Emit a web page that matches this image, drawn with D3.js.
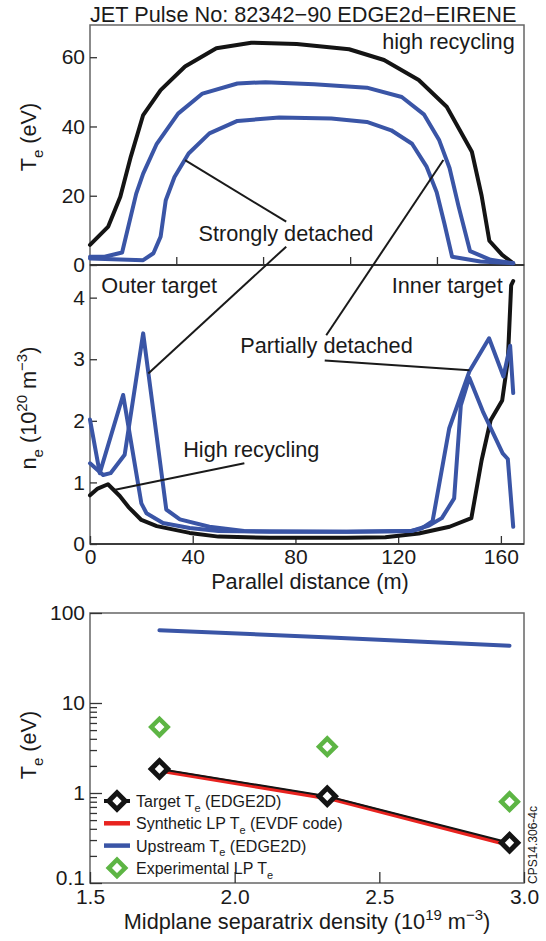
<!DOCTYPE html>
<html>
<head>
<meta charset="utf-8">
<style>
  body { margin: 0; background: #fff; }
  svg { font-family: 'Liberation Sans', Arial, sans-serif; }
</style>
<script src="https://d3js.org/d3.v7.min.js"></script>
</head>
<body>
<div id="chart"></div>
<script>
// ---- top panel: Te along the field line  [parallel distance (m), Te (eV)]
var teHighRecycling = [[0,5.8],[7.1,11.1],[11.8,19.7],[15.9,31.3],[20.7,43.3],[27.5,50.5],[37,57.3],[49.2,62.6],[62.8,64.2],[80.5,63.8],[100.9,62.3],[114.5,59.2],[128,53.4],[138.9,45.7],[148.7,32.7],[152.5,20],[155.5,7],[160.5,2.9],[164.8,0.5]];
var tePartial = [[0,2.4],[5.7,2.4],[12.5,3.6],[18,20.6],[20.7,26.4],[26,35],[34.3,43.7],[43.8,49.5],[57.4,52.4],[68.3,52.8],[87.3,52.2],[107.8,51.2],[121.4,48.5],[130,43.5],[136,36],[140,28],[143.5,17],[148,4],[156,1.5],[164.8,0.5]];
var teStrong = [[0,1.9],[20.7,1.4],[24.7,3.4],[27.5,8.2],[29.5,18.7],[32.9,25.4],[38.4,32.2],[46.5,38],[57.4,41.6],[73.7,42.6],[94,42.3],[107.8,41.3],[117.3,38.9],[125.4,35],[131,28.5],[135,21],[138,12],[141,2.4],[152,1],[164.8,0.5]];
var teTicks = [0, 20, 40, 60];
var distTicksTop = [33.6, 67.4, 101.3, 135.1];

// ---- middle panel: ne  [parallel distance (m), ne (1e20 m^-3)]
var neHighRecycling = [[0,0.79],[3,0.9],[7,0.97],[11.6,0.78],[15,0.6],[20,0.39],[26,0.29],[38.8,0.18],[50,0.12],[70,0.1],[100,0.1],[115,0.11],[128,0.17],[140,0.28],[148.5,0.42],[152.5,1.36],[156,2.01],[160.5,2.33],[162.7,2.98],[164,4.2],[164.8,4.27]];
var nePartial = [[0,2.02],[3.8,1.15],[12.9,2.42],[20,0.66],[22,0.5],[28.4,0.34],[38.8,0.26],[50,0.21],[70,0.2],[100,0.2],[125,0.21],[132,0.3],[137,0.42],[141.8,0.74],[144.4,2.25],[147.7,2.7],[153,2.15],[160.7,1.47],[162.7,1.38],[164.8,0.28]];
var neStrong = [[0,1.31],[5.1,1.12],[8,1.15],[13.5,1.45],[20.7,3.42],[29.7,0.56],[35,0.4],[46.5,0.28],[60,0.21],[100,0.2],[125,0.21],[129,0.25],[133.4,0.37],[139.9,1.88],[147.7,2.8],[155.4,3.34],[161,2.72],[163.6,3.22],[164.8,2.45]];
var neTicks = [0, 1, 2, 3, 4];
var distTicks = [0, 40, 80, 120, 160];

// ---- bottom panel: vs midplane separatrix density (1e19 m^-3)
var targetDensity = [1.74, 2.32, 2.95];
var targetTe = [1.85, 0.92, 0.28];
var syntheticDensity = [1.76, 2.33, 2.94];
var syntheticTe = [1.74, 0.87, 0.27];
var upstreamDensity = [1.74, 2.33, 2.95];
var upstreamTe = [64.5, 53.5, 43.3];
var expDensity = [1.74, 2.32, 2.95];
var expTe = [5.4, 3.27, 0.8];
var densityTicks = [1.5, 2.0, 2.5, 3.0];
var logTicks = [0.1, 1, 10, 100];
var logTickLabels = ["0.1", "1", "10", "100"];

var BLUE = "#3a55a6", BLACK = "#141414", RED = "#e8231f", GREEN = "#5db544";
var W = 546, H = 941, L = 90, R = 524;
var FS = 21.7;

var svg = d3.select("#chart").append("svg").attr("width", W).attr("height", H);

var x = d3.scaleLinear().domain([0, 169]).range([L, R]);
var yTe = d3.scaleLinear().domain([0, 69.3]).range([265, 25]);
var yNe = d3.scaleLinear().domain([0, 4.53]).range([544, 265]);
var xN = d3.scaleLinear().domain([1.5, 3.0]).range([L, R]);
var yLog = d3.scaleLog().domain([0.1, 100]).range([883, 613]);

function styleAxis(g) {
  g.attr("font-size", 21).attr("font-family", null);
  g.select(".domain").remove();
  g.selectAll(".tick text").attr("fill", "#1a1a1a");
  g.selectAll(".tick line").attr("stroke", "#333").attr("stroke-width", 1.3);
}

// rich text with sub/superscripts
function richText(g, parts, fs) {
  var small = Math.round(fs * 0.7), shift = 0;
  parts.forEach(function(p) {
    var t = g.append("tspan").text(p[0]);
    var target = p[1] === "sub" ? fs * 0.3 : p[1] === "sup" ? -fs * 0.4 : 0;
    t.attr("dy", target - shift).attr("font-size", p[1] ? small : fs);
    shift = target;
  });
}

// frames
[[25, 265], [265, 544], [613, 883]].forEach(function(f) {
  svg.append("rect").attr("x", L).attr("y", f[0]).attr("width", R - L).attr("height", f[1] - f[0])
    .attr("fill", "none").attr("stroke", "#666").attr("stroke-width", 1.5);
});
svg.append("line").attr("x1", L).attr("x2", R).attr("y1", 265).attr("y2", 265).attr("stroke", "#222").attr("stroke-width", 1.5);
svg.append("line").attr("x1", L).attr("x2", R).attr("y1", 544).attr("y2", 544).attr("stroke", "#222").attr("stroke-width", 1.5);

// axes
svg.append("g").attr("transform", "translate(" + L + ",0)")
  .call(d3.axisLeft(yTe).tickValues(teTicks).tickSize(-7).tickPadding(5)).call(styleAxis);
svg.append("g").attr("transform", "translate(0,265)")
  .call(d3.axisBottom(x).tickValues(distTicksTop).tickSize(-8).tickFormat("")).call(styleAxis);
svg.append("g").attr("transform", "translate(" + L + ",0)")
  .call(d3.axisLeft(yNe).tickValues(neTicks).tickSize(-7).tickPadding(5).tickFormat(d3.format("d"))).call(styleAxis);
svg.append("g").attr("transform", "translate(0,544)")
  .call(d3.axisBottom(x).tickValues(distTicks).tickSize(-8).tickPadding(5)).call(styleAxis);
svg.append("g").attr("transform", "translate(0,883)")
  .call(d3.axisBottom(xN).tickValues(densityTicks).tickSize(-11).tickPadding(6).tickFormat(d3.format(".1f"))).call(styleAxis);
var logAxis = svg.append("g").attr("transform", "translate(" + L + ",0)")
  .call(d3.axisLeft(yLog).tickValues(logTicks).tickSize(-12).tickPadding(5)
    .tickFormat(function(d, i) { return logTickLabels[i]; })).call(styleAxis);
// lift the lowest label clear of the x tick labels
logAxis.selectAll(".tick text").filter(function(d) { return d === 0.1; }).attr("y", -5);
var minor = [];
[0.1, 1].forEach(function(dec) { d3.range(2, 10).forEach(function(k) { minor.push(dec * k); }); });
svg.append("g").attr("transform", "translate(" + L + ",0)")
  .call(d3.axisLeft(yLog).tickValues(minor).tickSize(-7).tickFormat("")).call(styleAxis);

// title
svg.append("text").attr("x", L).attr("y", 22).attr("font-size", FS).attr("fill", "#1a1a1a")
  .text("JET Pulse No: 82342\u221290 EDGE2d\u2212EIRENE");

// axis titles
function yTitle(cy, parts) {
  var t = svg.append("text").attr("transform", "translate(36," + cy + ") rotate(-90)")
    .attr("text-anchor", "middle").attr("fill", "#1a1a1a");
  richText(t, parts, FS);
}
yTitle(137, [["T"], ["e", "sub"], [" (eV)"]]);
yTitle(408, [["n"], ["e", "sub"], [" (10"], ["20", "sup"], [" m"], ["\u22123", "sup"], [")"]]);
yTitle(745, [["T"], ["e", "sub"], [" (eV)"]]);

svg.append("text").attr("x", 310).attr("y", 589).attr("text-anchor", "middle")
  .attr("font-size", FS).attr("fill", "#1a1a1a").text("Parallel distance (m)");
var xt = svg.append("text").attr("x", 307).attr("y", 929).attr("text-anchor", "middle").attr("fill", "#1a1a1a");
richText(xt, [["Midplane separatrix density (10"], ["19", "sup"], [" m"], ["\u22123", "sup"], [")"]], FS);

// curves
function drawLine(data, xs, ys, color, width) {
  svg.append("path").datum(data)
    .attr("d", d3.line().x(function(d) { return xs(d[0]); }).y(function(d) { return ys(d[1]); }))
    .attr("fill", "none").attr("stroke", color).attr("stroke-width", width)
    .attr("stroke-linejoin", "round").attr("stroke-linecap", "round");
}
drawLine(teHighRecycling, x, yTe, BLACK, 4);
drawLine(tePartial, x, yTe, BLUE, 4);
drawLine(teStrong, x, yTe, BLUE, 4);
drawLine(neHighRecycling, x, yNe, BLACK, 4);
drawLine(nePartial, x, yNe, BLUE, 4);
drawLine(neStrong, x, yNe, BLUE, 4);

// annotation leaders
var leaders = [
  [[37, 30.3, yTe], [76.4, 12.5, yTe]],
  [[76.4, 5.3, yTe], [22.7, 2.77, yNe]],
  [[137.6, 30.3, yTe], [92, 3.39, yNe]],
  [[91.4, 2.98, yNe], [147.8, 2.82, yNe]],
  [[60.1, 1.31, yNe], [9.8, 0.88, yNe]]
];
leaders.forEach(function(l) {
  svg.append("line").attr("x1", x(l[0][0])).attr("y1", l[0][2](l[0][1]))
    .attr("x2", x(l[1][0])).attr("y2", l[1][2](l[1][1]))
    .attr("stroke", "#1a1a1a").attr("stroke-width", 2);
});

function note(txt, xv, yv, anchor) {
  svg.append("text").attr("x", xv).attr("y", yv).attr("text-anchor", anchor)
    .attr("font-size", FS).attr("fill", "#1a1a1a").text(txt);
}
note("high recycling", x(165.4), yTe(62.4), "end");
note("Strongly detached", x(76.3), yTe(7.0), "middle");
note("Outer target", x(4.4), yNe(4.07), "start");
note("Inner target", x(160.7), yNe(4.07), "end");
note("Partially detached", x(92.1), yNe(3.1), "middle");
note("High recycling", x(62.8), yNe(1.42), "middle");

// bottom panel
function zip(a, b) { return a.map(function(v, i) { return [v, b[i]]; }); }
drawLine(zip(upstreamDensity, upstreamTe), xN, yLog, BLUE, 4);
drawLine(zip(syntheticDensity, syntheticTe), xN, yLog, RED, 4.5);
drawLine(zip(targetDensity, targetTe), xN, yLog, BLACK, 2);

var diamond = d3.symbol().type(d3.symbolSquare).size(135);
function markers(data, color, strokeW) {
  svg.append("g").selectAll("path").data(data).join("path")
    .attr("d", diamond)
    .attr("transform", function(d) { return "translate(" + xN(d[0]) + "," + yLog(d[1]) + ") rotate(45)"; })
    .attr("fill", "#fff").attr("stroke", color).attr("stroke-width", strokeW);
}
markers(zip(targetDensity, targetTe), BLACK, 5);
markers(zip(expDensity, expTe), GREEN, 4.5);

// legend
var legendRows = [
  { kind: "lineMarker", color: BLACK, parts: [["Target T"], ["e", "sub"], [" (EDGE2D)"]] },
  { kind: "line", color: RED, parts: [["Synthetic LP T"], ["e", "sub"], [" (EVDF code)"]] },
  { kind: "line", color: BLUE, parts: [["Upstream T"], ["e", "sub"], [" (EDGE2D)"]] },
  { kind: "marker", color: GREEN, parts: [["Experimental LP T"], ["e", "sub"]] }
];
var lg = svg.append("g").attr("transform", "translate(104,801)");
legendRows.forEach(function(r, i) {
  var g = lg.append("g").attr("transform", "translate(0," + (i * 22.3) + ")");
  if (r.kind !== "marker") {
    g.append("line").attr("x1", 0).attr("x2", 26).attr("stroke", r.color).attr("stroke-width", r.kind === "line" ? 4.5 : 4);
  }
  if (r.kind !== "line") {
    g.append("path").attr("d", diamond).attr("transform", "translate(13,0) rotate(45)")
      .attr("fill", "#fff").attr("stroke", r.color).attr("stroke-width", r.kind === "lineMarker" ? 5 : 4.5);
  }
  var t = g.append("text").attr("x", 32).attr("y", 6).attr("fill", "#1a1a1a");
  richText(t, r.parts, 16);
});

svg.append("text").attr("transform", "translate(537,845) rotate(-90)").attr("text-anchor", "middle")
  .attr("font-size", 12).attr("fill", "#1a1a1a").text("CPS14.306-4c");
</script>
</body>
</html>
